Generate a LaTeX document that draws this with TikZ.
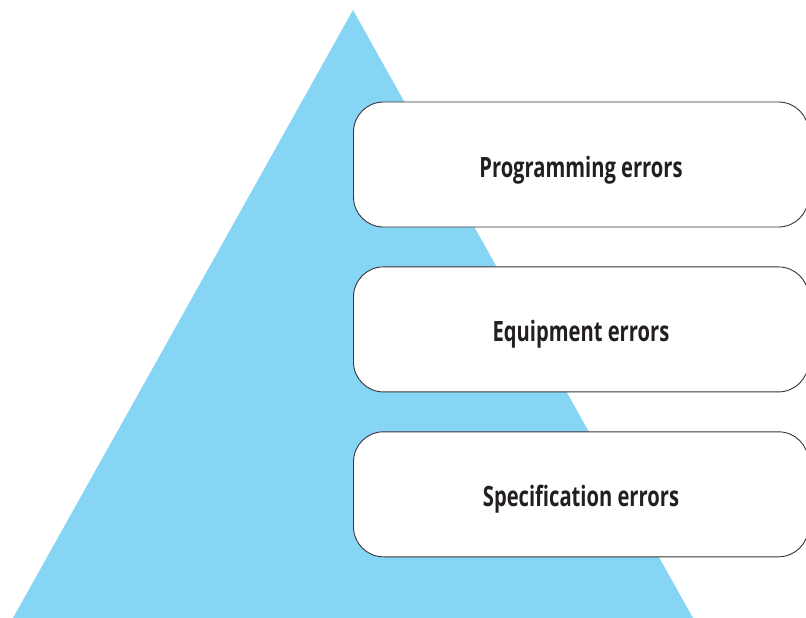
\documentclass[tikz,border=0pt]{standalone}
\usepackage{fontspec}
\setmainfont{Open Sans}
\newfontfamily\boxfont[FakeStretch=0.72]{Open Sans}
\usetikzlibrary{positioning}
\definecolor{skyblue}{HTML}{87D5F5}
\definecolor{inkgray}{HTML}{231F20}
\begin{document}
\begin{tikzpicture}[x=1pt,y=-1pt, line join=round, line cap=round,
	errbox/.style={draw=inkgray!90, line width=0.9pt, fill=white, rounded corners=30pt,
		minimum width=455pt, minimum height=125pt, inner sep=0pt,
		text height=25pt, text depth=0pt,
		font=\boxfont\fontsize{28}{32}\selectfont\bfseries, text=inkgray}]
	\def\W{806} \def\H{618} % kich thuoc
	\useasboundingbox (0,0) rectangle (\W,\H);
	\clip (0,0) rectangle (\W,\H);
	% tam giac
	\fill[skyblue] (353,10) -- (693,618) -- (13,618) -- cycle;
	% cac hop
	\node[errbox] (prog) at (581,164.5) {Programming errors};
	\node[errbox, below=39pt of prog] (equip) {Equipment errors};
	\node[errbox, below=39pt of equip] (spec) {Specification errors};
\end{tikzpicture}
\end{document}
